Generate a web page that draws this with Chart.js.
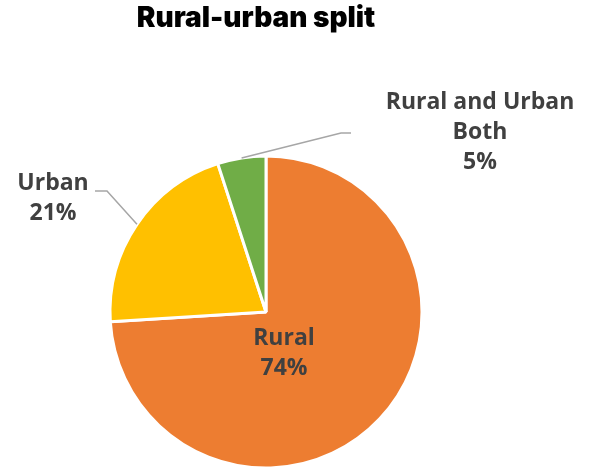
<!doctype html>
<html lang="en">
  <head>
    <meta charset="utf-8">
    <script src="https://cdn.jsdelivr.net/npm/chart.js@4.4.1/dist/chart.umd.min.js"></script>
    <title>Rural-urban split</title>
    <style>
      * {
        margin: 0;
        padding: 0;
      }
      body {
        background: white;
      }
      #pieChart {
        display: block;
      }
    </style>
  </head>
  <body>
    <canvas id="pieChart" width="595" height="468"></canvas>
    <script>
    // chart data
    const categories = ['Rural', 'Urban', 'Rural and Urban Both'];
    const shares = [74, 21, 5];
    const sliceColors = ['#ED7D31', '#FFC000', '#70AD47'];

    const labelFont = '700 23px "Open Sans", "Noto Sans", sans-serif';
    const textColor = '#404040';

    // data labels: text lines, centre of label, optional leader line (elbow + end)
    const labelSpots = [
      { lines: ['Rural', '74%'], x: 284, y: 338, leader: null },
      { lines: ['Urban', '21%'], x: 53, y: 183, leader: { elbow: [107, 191], end: [95, 191] } },
      { lines: ['Rural and Urban', 'Both', '5%'], x: 480, y: 102, leader: { elbow: [341, 133], end: [351, 133] } }
    ];

    const labelPlugin = {
      id: 'pieLabels',
      afterDraw(chart) {
        const ctx = chart.ctx;
        const arcs = chart.getDatasetMeta(0).data;
        ctx.save();

        // title
        ctx.fillStyle = '#000';
        ctx.font = '900 28px Inter, "DejaVu Sans", sans-serif';
        ctx.textAlign = 'center';
        ctx.textBaseline = 'middle';
        ctx.fillText('Rural-urban split', 256, 19);

        // leader lines from the middle of each outer arc
        ctx.strokeStyle = '#A6A6A6';
        ctx.lineWidth = 1.5;
        arcs.forEach((arc, i) => {
          const ld = labelSpots[i].leader;
          if (!ld) return;
          const mid = (arc.startAngle + arc.endAngle) / 2;
          const sx = arc.x + Math.cos(mid) * arc.outerRadius;
          const sy = arc.y + Math.sin(mid) * arc.outerRadius;
          ctx.beginPath();
          ctx.moveTo(sx, sy);
          ctx.lineTo(ld.elbow[0], ld.elbow[1]);
          ctx.lineTo(ld.end[0], ld.end[1]);
          ctx.stroke();
        });

        // label text
        ctx.fillStyle = textColor;
        ctx.font = labelFont;
        labelSpots.forEach((spot, i) => {
          const txt = spot.lines.slice(0, -1).concat([shares[i] + '%']);
          txt.forEach((line, k) => {
            ctx.fillText(line, spot.x, spot.y + k * 30);
          });
        });
        ctx.restore();
      }
    };

    new Chart(document.getElementById('pieChart'), {
      type: 'pie',
      data: {
        labels: categories,
        datasets: [{
          data: shares,
          backgroundColor: sliceColors,
          borderColor: '#ffffff',
          borderWidth: 3,
          hoverOffset: 0
        }]
      },
      options: {
        responsive: false,
        animation: false,
        radius: 156,
        layout: {
          padding: { top: 156, left: 110, right: 173, bottom: 0 }
        },
        plugins: {
          legend: { display: false },
          title: { display: false },
          tooltip: { enabled: false }
        }
      },
      plugins: [labelPlugin]
    });
    </script>
  </body>
</html>
